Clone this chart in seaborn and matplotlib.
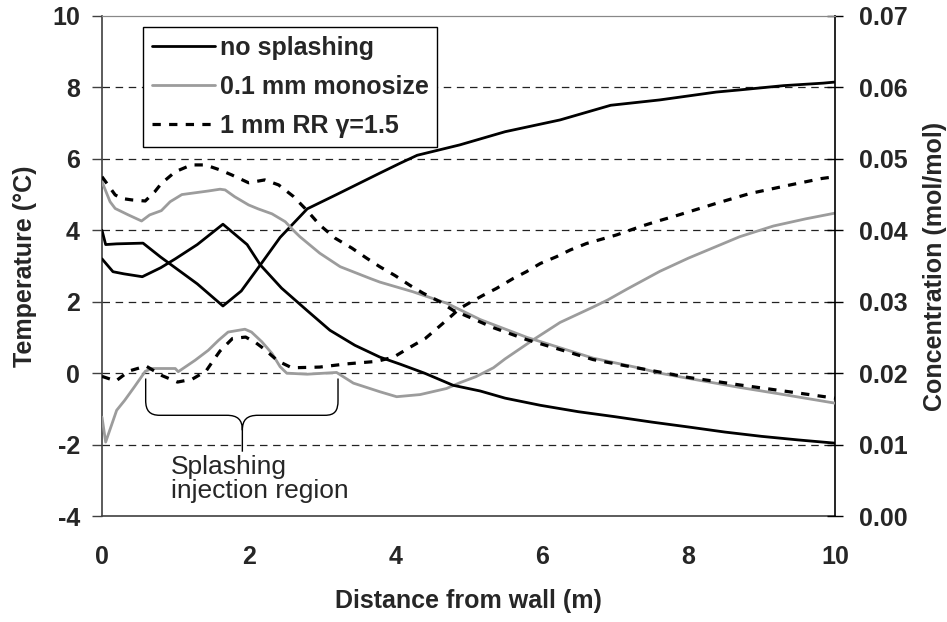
import matplotlib
matplotlib.use("Agg")
import matplotlib.pyplot as plt
from matplotlib.path import Path
from matplotlib.patches import PathPatch
from matplotlib.ticker import MultipleLocator, FormatStrFormatter
import seaborn as sns

# ---------------------------------------------------------------
# Profiles versus distance from the wall (m)
# ---------------------------------------------------------------
series_names = ["no splashing", "0.1 mm monosize", "1 mm RR \u03b3=1.5"]

# Temperature (°C)
temp_none_x = [0.0, 0.05, 0.2, 0.56, 0.8, 1.0, 1.3, 1.65, 1.9, 2.16, 2.43, 2.8, 3.2,
               3.79, 4.07, 4.3, 4.88, 5.5, 6.25, 6.94, 7.61, 8.38, 8.7, 9.3, 9.84, 10.0]
temp_none_y = [4.0, 3.6, 3.62, 3.64, 3.25, 2.95, 2.5, 1.88, 2.3, 3.03, 3.8, 4.6, 5.0,
               5.6, 5.88, 6.1, 6.39, 6.76, 7.09, 7.5, 7.65, 7.87, 7.93, 8.05, 8.12, 8.15]

temp_mono_x = [0.0, 0.05, 0.2, 0.31, 0.44, 0.59, 0.68, 1.0, 1.04, 1.27, 1.45, 1.59, 1.72,
               1.95, 2.04, 2.18, 2.32, 2.43, 2.52, 2.8, 3.2, 3.43, 3.79, 4.02, 4.34, 4.7,
               4.88, 5.1, 5.34, 5.5, 5.88, 6.25, 6.7, 6.9, 7.16, 7.61, 8.0, 8.7, 9.16,
               9.6, 10.0]
temp_mono_y = [-1.23, -1.93, -1.04, -0.76, -0.39, 0.05, 0.13, 0.13, 0.04, 0.36, 0.64, 0.92,
               1.15, 1.23, 1.15, 0.88, 0.55, 0.18, 0.0, -0.03, 0.02, -0.28, -0.52, -0.66,
               -0.6, -0.43, -0.27, -0.1, 0.15, 0.4, 0.93, 1.42, 1.85, 2.05, 2.35, 2.85,
               3.22, 3.82, 4.12, 4.32, 4.48]

temp_rr_x = [0.0, 0.19, 0.37, 0.6, 0.82, 1.03, 1.23, 1.42, 1.52, 1.61, 1.78, 1.96, 2.1,
             2.21, 2.4, 2.59, 2.97, 3.34, 3.75, 3.98, 4.19, 4.41, 4.57, 4.75, 4.88, 5.04,
             5.2, 5.38, 5.61, 5.79, 5.98, 6.2, 6.39, 6.61, 7.02, 7.34, 7.57, 7.79, 8.39,
             8.84, 9.39, 9.82, 10.0]
temp_rr_y = [-0.09, -0.22, 0.06, 0.2, -0.07, -0.25, -0.17, 0.06, 0.36, 0.62, 0.97, 1.01,
             0.85, 0.68, 0.34, 0.15, 0.17, 0.26, 0.33, 0.45, 0.71, 0.97, 1.25, 1.57, 1.81,
             2.0, 2.18, 2.37, 2.65, 2.84, 3.07, 3.26, 3.45, 3.63, 3.87, 4.1, 4.25, 4.38,
             4.76, 5.03, 5.27, 5.45, 5.5]

# Concentration (mol/mol)
conc_none_x = [0.0, 0.15, 0.3, 0.55, 0.8, 1.0, 1.3, 1.65, 1.98, 2.16, 2.45, 2.8, 3.11,
               3.45, 3.79, 4.07, 4.4, 4.79, 5.16, 5.5, 5.98, 6.5, 7.0, 7.5, 8.01, 8.5,
               9.0, 9.5, 10.0]
conc_none_y = [0.0360, 0.0342, 0.0339, 0.0335, 0.03475, 0.0360, 0.0380, 0.04085, 0.0380,
               0.03515, 0.0319, 0.02875, 0.0260, 0.0239, 0.02225, 0.02125, 0.0200, 0.0183,
               0.0175, 0.0165, 0.0155, 0.0146, 0.0139, 0.01315, 0.01245, 0.01175, 0.01115,
               0.01065, 0.0102]

conc_mono_x = [0.0, 0.11, 0.18, 0.36, 0.54, 0.65, 0.81, 0.93, 1.09, 1.27, 1.45, 1.61, 1.68,
               1.81, 2.0, 2.13, 2.32, 2.5, 2.63, 2.7, 2.97, 3.25, 3.66, 3.79, 4.24, 4.7,
               5.16, 5.8, 6.7, 7.34, 7.61, 8.01, 8.7, 9.3, 10.0]
conc_mono_y = [0.0468, 0.0440, 0.04305, 0.04215, 0.0413, 0.04215, 0.04275, 0.0440, 0.0450,
               0.04525, 0.0455, 0.04575, 0.04565, 0.0447, 0.04355, 0.0430, 0.0423, 0.0412,
               0.0398, 0.0391, 0.0368, 0.0349, 0.03325, 0.03275, 0.0314, 0.0298, 0.0275,
               0.0250, 0.0221, 0.0207, 0.0200, 0.01925, 0.0180, 0.0170, 0.0158]

conc_rr_x = [0.0, 0.18, 0.27, 0.41, 0.59, 0.72, 0.81, 1.0, 1.22, 1.41, 1.61, 1.77, 2.0,
             2.22, 2.41, 2.61, 2.79, 2.97, 3.18, 3.41, 3.61, 3.79, 4.0, 4.2, 4.38, 4.61,
             4.79, 5.02, 5.33, 5.79, 6.25, 6.7, 7.16, 7.61, 8.0, 8.7, 9.3, 10.0]
conc_rr_y = [0.0475, 0.04495, 0.04445, 0.04425, 0.0441, 0.0454, 0.04655, 0.0482, 0.04915,
             0.04915, 0.04845, 0.04775, 0.04665, 0.04705, 0.04635, 0.04475, 0.04285,
             0.04075, 0.0389, 0.0375, 0.0361, 0.0349, 0.03365, 0.0323, 0.0312, 0.0300,
             0.0288, 0.0278, 0.0264, 0.0247, 0.0233, 0.0219, 0.0210, 0.02015, 0.0194,
             0.01835, 0.0175, 0.0165]

x_ticks = [0, 2, 4, 6, 8, 10]
temp_ticks = [-4, -2, 0, 2, 4, 6, 8, 10]
grid_levels = [-2, 0, 2, 4, 6, 8]

# ---------------------------------------------------------------
sns.set_style("white")
plt.rcParams["font.family"] = ["Liberation Sans", "DejaVu Sans"]
plt.rcParams["axes.unicode_minus"] = False

FS = 18
BLACK = "#000000"
GREY = "#9c9c9c"
styles = [
    dict(color=BLACK, lw=2.0, ls="-"),
    dict(color=GREY, lw=2.0, ls="-"),
    dict(color=BLACK, lw=2.3, ls=(0, (2.6, 2.6))),
]

fig = plt.figure(figsize=(9.47, 6.22), dpi=100)
ax = fig.add_axes([0.1077, 0.1704, 0.774, 0.8039])
ax2 = ax.twinx()

for lvl in grid_levels:
    ax.axhline(lvl, color="#222222", lw=0.9, ls=(0, (6, 4.5)), zorder=1)

temp_sets = [(temp_none_x, temp_none_y), (temp_mono_x, temp_mono_y), (temp_rr_x, temp_rr_y)]
conc_sets = [(conc_none_x, conc_none_y), (conc_mono_x, conc_mono_y), (conc_rr_x, conc_rr_y)]

for name, (xs, ys), st in zip(series_names, temp_sets, styles):
    sns.lineplot(x=xs, y=ys, ax=ax, color=st["color"], linewidth=st["lw"],
                 linestyle=st["ls"], label=name, zorder=3, sort=False)
for (xs, ys), st in zip(conc_sets, styles):
    sns.lineplot(x=xs, y=ys, ax=ax2, color=st["color"], linewidth=st["lw"],
                 linestyle=st["ls"], zorder=3, sort=False)

handles, labels = ax.get_legend_handles_labels()
if ax.get_legend() is not None:
    ax.get_legend().remove()
if ax2.get_legend() is not None:
    ax2.get_legend().remove()

ax.set_xlim(0, 10)
ax.set_ylim(-4, 10)
ax2.set_ylim(0, 0.07)
ax.set_xticks(x_ticks)
ax.set_yticks(temp_ticks)
ax2.yaxis.set_major_locator(MultipleLocator(0.01))
ax2.yaxis.set_major_formatter(FormatStrFormatter("%.2f"))

ax.tick_params(axis="x", direction="out", length=7, width=1, pad=14,
               labelsize=FS, color="#404040")
ax.tick_params(axis="y", direction="out", length=7, width=1, pad=9,
               labelsize=FS, color="#404040")
ax2.tick_params(axis="y", direction="inout", length=12, width=1, pad=11,
                labelsize=FS, color=BLACK)
for lab in ax.get_xticklabels() + ax.get_yticklabels() + ax2.get_yticklabels():
    lab.set_fontweight("bold")

for side in ["left", "bottom"]:
    ax.spines[side].set_color("#404040")
    ax.spines[side].set_linewidth(1.2)
ax.spines["top"].set_color("#888888")
ax2.spines["top"].set_color("#888888")
ax2.spines["right"].set_color(BLACK)
ax2.spines["right"].set_linewidth(1.2)
ax2.spines["left"].set_visible(False)
ax2.spines["bottom"].set_visible(False)
ax.spines["right"].set_visible(False)

ax.set_xlabel("Distance from wall (m)", fontsize=FS, fontweight="bold", labelpad=14)
ax.set_ylabel("Temperature (\u00b0C)", fontsize=FS, fontweight="bold", labelpad=11)
ax2.set_ylabel("Concentration (mol/mol)", fontsize=FS, fontweight="bold", labelpad=11)

leg = ax2.legend(handles, labels, loc="upper left", bbox_to_anchor=(0.056, 0.978),
                 frameon=True, fancybox=False, shadow=False, framealpha=1,
                 edgecolor=BLACK, handlelength=2.5, handletextpad=0.2,
                 labelspacing=0.6, borderpad=0.36, borderaxespad=0.0,
                 prop=dict(family=["Liberation Sans", "DejaVu Sans"], size=FS, weight="bold"))
leg.get_frame().set_linewidth(1.0)

# Curly brace marking the splashing injection band
xl, xr, xc = 0.596, 3.22, 1.915
yt, yh, yk, ytip = -0.15, -1.18, -0.76, -2.2
verts = [
    (xl, yt), (xl, yk),
    (xl, -1.05), (0.65, yh), (0.79, yh),
    (1.70, yh),
    (1.85, yh), (xc, -1.3), (xc, -1.6),
    (xc, ytip),
    (xc, -1.6),
    (xc, -1.3), (1.98, yh), (2.13, yh),
    (3.04, yh),
    (3.18, yh), (xr, -1.05), (xr, yk),
    (xr, yt),
]
codes = [
    Path.MOVETO, Path.LINETO,
    Path.CURVE4, Path.CURVE4, Path.CURVE4,
    Path.LINETO,
    Path.CURVE4, Path.CURVE4, Path.CURVE4,
    Path.LINETO,
    Path.MOVETO,
    Path.CURVE4, Path.CURVE4, Path.CURVE4,
    Path.LINETO,
    Path.CURVE4, Path.CURVE4, Path.CURVE4,
    Path.LINETO,
]
ax.add_patch(PathPatch(Path(verts, codes), facecolor="none", edgecolor=BLACK,
                       lw=1.0, zorder=4))
ax.text(0.94, -2.28, "Splashing\ninjection region", fontsize=19, ha="left", va="top",
        linespacing=1.0, zorder=4)

fig.savefig("out.png", dpi=100)
